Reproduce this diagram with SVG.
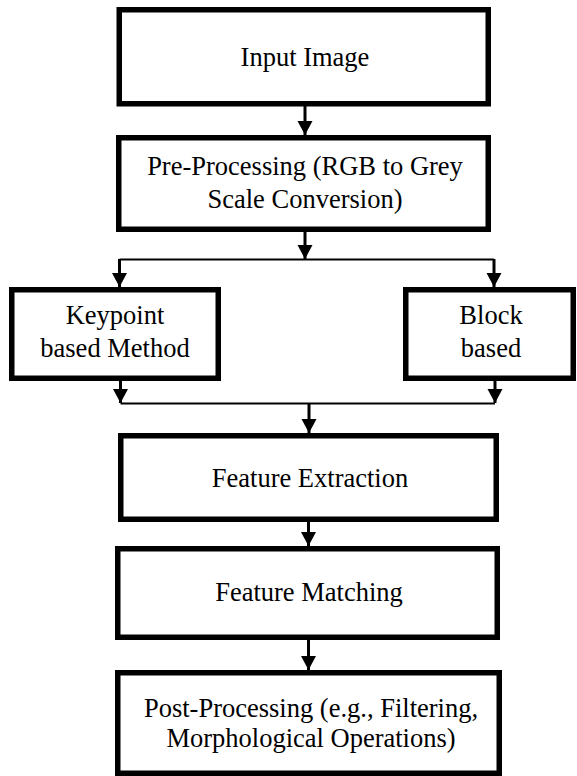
<svg xmlns="http://www.w3.org/2000/svg" width="577" height="776" viewBox="0 0 577 776">
<style>
.box{fill:#fff;stroke:#000;stroke-width:5.5}
.t{font-size:26.5px;fill:#000;text-anchor:middle}
.v{stroke:#000;stroke-width:3;fill:none}
.h{stroke:#000;stroke-width:2;fill:none}
</style>
<defs>
<marker id="ah" markerUnits="userSpaceOnUse" markerWidth="15" markerHeight="16" refX="14" refY="7.5" orient="auto">
<path d="M0,0 L14,7.5 L0,15 z" fill="#000"/>
</marker>
</defs>
<rect width="577" height="776" fill="#fff"/>
<g id="connectors">
<line class="v" x1="305" y1="106" x2="305" y2="135" marker-end="url(#ah)"/>
<line class="v" x1="305" y1="232" x2="305" y2="259" marker-end="url(#ah)"/>
<line class="h" x1="119.5" y1="259.5" x2="494" y2="259.5"/>
<line class="v" x1="119.5" y1="259" x2="119.5" y2="287" marker-end="url(#ah)"/>
<line class="v" x1="494" y1="259" x2="494" y2="287" marker-end="url(#ah)"/>
<line class="v" x1="120.5" y1="380" x2="120.5" y2="403" marker-end="url(#ah)"/>
<line class="v" x1="495" y1="380" x2="495" y2="403" marker-end="url(#ah)"/>
<line class="h" x1="120.5" y1="403.5" x2="495" y2="403.5"/>
<line class="v" x1="309" y1="403" x2="309" y2="433" marker-end="url(#ah)"/>
<line class="v" x1="308.5" y1="521" x2="308.5" y2="546" marker-end="url(#ah)"/>
<line class="v" x1="308.5" y1="639" x2="308.5" y2="670" marker-end="url(#ah)"/>
</g>
<g font-family="'Liberation Serif', serif">
<g id="input">
<rect class="box" x="119.25" y="9.75" width="369" height="94"/>
<text class="t" x="305" y="66">Input Image</text>
</g>
<g id="preprocessing">
<rect class="box" x="118.75" y="137.75" width="369.5" height="91.5"/>
<text class="t" x="305" y="175">Pre-Processing (RGB to Grey</text>
<text class="t" x="305" y="208">Scale Conversion)</text>
</g>
<g id="keypoint">
<rect class="box" x="11.75" y="289.75" width="206.5" height="88.5"/>
<text class="t" x="115" y="324">Keypoint</text>
<text class="t" x="115" y="357">based Method</text>
</g>
<g id="block">
<rect class="box" x="405.75" y="289.75" width="167.5" height="88.5"/>
<text class="t" x="491" y="324">Block</text>
<text class="t" x="491" y="357">based</text>
</g>
<g id="extraction">
<rect class="box" x="120.75" y="435.75" width="375.5" height="83.5"/>
<text class="t" x="310" y="487">Feature Extraction</text>
</g>
<g id="matching">
<rect class="box" x="117.75" y="548.75" width="379.5" height="88.5"/>
<text class="t" x="309" y="601">Feature Matching</text>
</g>
<g id="postprocessing">
<rect class="box" x="117.75" y="672.75" width="381.5" height="100.5"/>
<text class="t" x="311" y="717">Post-Processing (e.g., Filtering,</text>
<text class="t" x="311" y="747">Morphological Operations)</text>
</g>
</g>
</svg>
